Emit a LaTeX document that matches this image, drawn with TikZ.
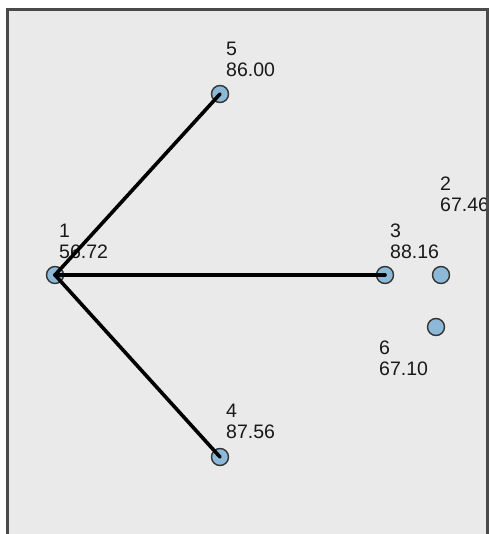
\documentclass[tikz,border=0pt]{standalone}
\usepackage{fontspec}
\setmainfont{Liberation Sans}
\usepackage{tikz}
\usetikzlibrary{positioning}
\definecolor{dotblue}{HTML}{8CB9D8}
\definecolor{panelgray}{HTML}{EAEAEA}
\definecolor{framegray}{HTML}{4A4A4A}

\begin{document}
\begin{tikzpicture}[x=1pt,y=-1pt,
  dot/.style={circle,draw=black!80,fill=dotblue,minimum size=17pt,inner sep=0pt,line width=1.4pt},
  lbl/.style={anchor=north west,align=left,inner sep=0pt,text=black!90,font=\fontsize{19.5}{21}\selectfont},
  link/.style={line width=3.6pt,line cap=round}]
\useasboundingbox (0,0) rectangle (489,534);
\fill[white] (0,0) rectangle (489,534);
\fill[panelgray] (7,10) rectangle (489,540);
\begin{scope}
\clip (7,10) rectangle (487,534);
% nodes
\node[dot] (n1) at (55,275) {};
\node[dot] (n5) at (220,94) {};
\node[dot] (n3) at (385,275) {};
\node[dot] (n2) at (441,275) {};
\node[dot] (n6) at (436,327) {};
\node[dot] (n4) at (220,457) {};
% labels
\node[lbl] (l1) at (59,224) {1\\56.72};
\node[lbl] (l5) at (226,42) {5\\86.00};
\node[lbl] (l3) at (390,224) {3\\88.16};
\node[lbl] (l2) at (440,177) {2\\67.46};
\node[lbl] (l6) at (379,341) {6\\67.10};
\node[lbl] (l4) at (226,404) {4\\87.56};
% links
\draw[link] (n1.center) -- (n5.center);
\draw[link] (n1.center) -- (n3.center);
\draw[link] (n1.center) -- (n4.center);
\end{scope}
\draw[framegray,line width=3pt] (7,540) -- (7,10) -- (487,10) -- (487,540);
\end{tikzpicture}
\end{document}
